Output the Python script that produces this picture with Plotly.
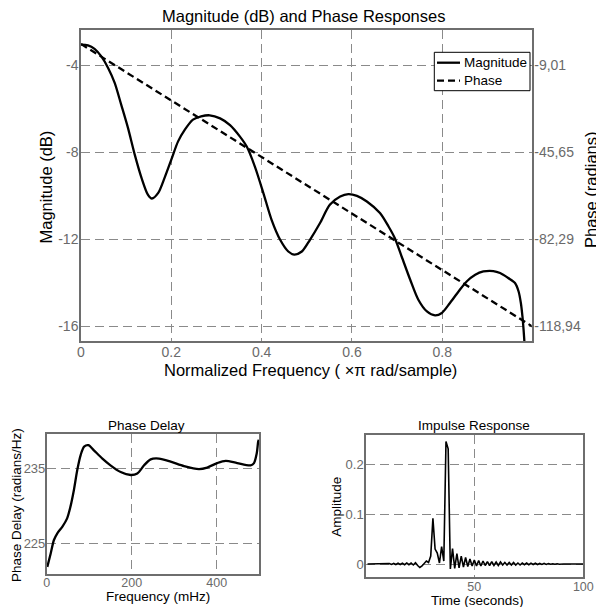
import plotly.graph_objects as go

# ---------------- data ----------------
mag_freq = [0.0, 0.0155, 0.030, 0.045, 0.060, 0.0746, 0.089, 0.104, 0.119, 0.134, 0.148, 0.157,
            0.171, 0.185, 0.200, 0.215, 0.230, 0.248, 0.266, 0.285, 0.308, 0.330, 0.352, 0.367,
            0.385, 0.404, 0.422, 0.441, 0.459, 0.472, 0.489, 0.507, 0.529, 0.551, 0.574, 0.592,
            0.611, 0.633, 0.662, 0.681, 0.695, 0.710, 0.729, 0.747, 0.766, 0.784, 0.799, 0.817,
            0.836, 0.854, 0.873, 0.891, 0.913, 0.928, 0.946, 0.961, 0.969, 0.974, 0.9775, 0.980,
            0.982, 0.986]
mag_db = [-3.05, -3.08, -3.24, -3.59, -4.12, -4.81, -5.81, -6.88, -8.11, -9.18, -9.95, -10.13,
          -9.87, -9.18, -8.34, -7.50, -6.96, -6.50, -6.35, -6.30, -6.44, -6.75, -7.28, -7.74,
          -8.66, -9.89, -11.11, -12.03, -12.57, -12.71, -12.57, -12.03, -11.27, -10.42, -10.04, -9.93,
          -10.01, -10.27, -10.80, -11.42, -11.96, -12.80, -13.87, -14.79, -15.33, -15.51, -15.40, -14.94,
          -14.41, -13.95, -13.64, -13.49, -13.47, -13.56, -13.79, -14.02, -14.41, -14.94, -15.56, -16.17,
          -16.78, -18.5]

phase_freq = [0.0, 1.0]
phase_rad = [0.0, -119.2]

mag_ticks = [-16, -12, -8, -4]
phase_ticks = [-118.94, -82.29, -45.65, -9.01]
phase_ticktext = ["-118,94", "-82,29", "-45,65", "-9,01"]
freq_ticks = [0, 0.2, 0.4, 0.6, 0.8]

pd_freq = [1.4, 9.4, 17, 25, 37, 48, 56, 64, 72, 80, 88, 98, 111, 131, 150, 174, 197.5, 213,
           229, 244.5, 264, 291.5, 323, 358, 377.5, 401, 421, 448, 479.5, 487.5, 494, 497.5, 499]
pd_val = [221.8, 223.6, 225.4, 226.3, 227.2, 228.3, 229.9, 232.1, 234.8, 236.8, 237.9, 238.1,
          237.4, 236.3, 235.4, 234.5, 234.1, 234.3, 235.4, 236.2, 236.3, 235.9, 235.3, 234.9,
          235.1, 235.7, 236.0, 235.7, 235.4, 235.7, 237.0, 238.6, 238.8]

imp_time = list(range(1, 101))
imp_amp = [0, 0, 0, 0, 0, 0, 0, 0, 0, 0,
           0.001, -0.001, 0.001, -0.001, 0.0015, -0.001, 0.0015, -0.0015, 0.002, -0.0015,
           0.002, -0.002, 0.0025, -0.003, -0.007, -0.004, 0.002, 0.006, 0.003, 0.016,
           0.092, 0.030, 0.022, 0.002, 0.035, 0.006, 0.247, 0.232, -0.010, 0.031,
           -0.009, 0.021, -0.008, 0.016, -0.006, 0.013, -0.005, 0.010, -0.004, 0.008,
           -0.004, 0.007, -0.004, 0.006, -0.003, 0.005, -0.003, 0.005, -0.003, 0.004,
           -0.003, 0.004, -0.002, 0.003, -0.002, 0.003, -0.002, 0.003, -0.002, 0.002,
           -0.002, 0.002, -0.0015, 0.002, -0.0015, 0.0015, -0.001, 0.0015, -0.001, 0.001,
           -0.001, 0.001, -0.001, 0.001, -0.0005, 0.0005, -0.0005, 0.0005, -0.0005, 0.0005,
           0, 0, 0, 0, 0, 0, 0, 0, 0, 0]

legend_names = ["Magnitude", "Phase"]

# ---------------- styling ----------------
FONT = "Liberation Sans, Arial, sans-serif"
TICKC = "#6a6a6a"
AXC = "#6e6e6e"
GRIDC = "#8a8a8a"
GDASH = "9px,5px"
PHASE_DASH = "7px,4px"
W, H = 596, 607


def px(x):
    return x / W


def py(y):
    return 1 - y / H


fig = go.Figure()
fig.add_trace(go.Scatter(x=mag_freq, y=mag_db, mode="lines", name=legend_names[0],
                         line=dict(color="black", width=2.3, shape="spline", smoothing=0.8),
                         xaxis="x", yaxis="y", showlegend=False))
fig.add_trace(go.Scatter(x=phase_freq, y=phase_rad, mode="lines", name=legend_names[1],
                         line=dict(color="black", width=2.3, dash=PHASE_DASH),
                         xaxis="x", yaxis="y2", showlegend=False))
fig.add_trace(go.Scatter(x=pd_freq, y=pd_val, mode="lines", showlegend=False,
                         line=dict(color="black", width=2.3, shape="spline", smoothing=0.8),
                         xaxis="x2", yaxis="y3"))
fig.add_trace(go.Scatter(x=imp_time, y=imp_amp, mode="lines", showlegend=False,
                         line=dict(color="black", width=1.6),
                         xaxis="x3", yaxis="y4"))

common = dict(showline=True, linecolor=AXC, linewidth=1.5, mirror=True, zeroline=False,
              showgrid=True, gridcolor=GRIDC, gridwidth=1, griddash=GDASH,
              ticks="", automargin=False)

fig.update_layout(
    width=W, height=H,
    margin=dict(l=0, r=0, t=0, b=0, autoexpand=False),
    paper_bgcolor="white", plot_bgcolor="white",
    font=dict(family=FONT, color="black"),
    showlegend=False,
    xaxis=dict(domain=[px(81), px(531.7)], range=[0, 0.998], anchor="y",
               tickvals=freq_ticks, ticktext=["0", "0.2", "0.4", "0.6", "0.8"],
               ticklabelstandoff=-3,
               tickfont=dict(size=14, color=TICKC), **common),
    yaxis=dict(domain=[py(341), py(29.5)], range=[-16.69, -2.35], anchor="x",
               tickvals=mag_ticks, ticktext=[str(v) for v in mag_ticks],
               ticklabelstandoff=-2,
               tickfont=dict(size=14, color=TICKC), **common),
    yaxis2=dict(overlaying="y", side="right", range=[-125.25, 6.10], anchor="x",
                tickvals=phase_ticks, ticktext=phase_ticktext, showgrid=False,
                showline=True, linecolor=AXC, linewidth=1.5, zeroline=False, ticks="",
                automargin=False, ticklabelstandoff=-2,
                tickfont=dict(size=14, color=TICKC)),
    xaxis2=dict(domain=[px(46.7), px(259.3)], range=[0, 500], anchor="y3",
                tickvals=[0, 200, 400], ticklabelstandoff=-4,
                tickfont=dict(size=12.5, color=TICKC), **common),
    yaxis3=dict(domain=[py(574), py(434.3)], range=[220.85, 239.55], anchor="x2",
                tickvals=[225, 235], ticklabelstandoff=-3,
                tickfont=dict(size=13, color=TICKC), **common),
    xaxis3=dict(domain=[px(366), px(583.3)], range=[0.3, 100], anchor="y4",
                tickvals=[50, 100], ticklabelstandoff=-2,
                tickfont=dict(size=12.5, color=TICKC), **common),
    yaxis4=dict(domain=[py(576.7), py(435)], range=[-0.0256, 0.26], anchor="x3",
                tickvals=[0, 0.1, 0.2], ticktext=["0", "0.1", "0.2"],
                ticklabelstandoff=-2,
                tickfont=dict(size=13, color=TICKC), **common),
)

# manual legend box (MATLAB style)
fig.add_shape(type="rect", xref="paper", yref="paper",
              x0=px(434.3), x1=px(530), y0=py(90.7), y1=py(52.3),
              line=dict(color="black", width=1), fillcolor="white", layer="above")
fig.add_shape(type="line", xref="paper", yref="paper",
              x0=px(437), x1=px(460), y0=py(62.7), y1=py(62.7),
              line=dict(color="black", width=2.3), layer="above")
fig.add_shape(type="line", xref="paper", yref="paper",
              x0=px(437), x1=px(460), y0=py(80.7), y1=py(80.7),
              line=dict(color="black", width=2.3, dash=PHASE_DASH), layer="above")
for i, name in enumerate(legend_names):
    fig.add_annotation(text=name, x=px(462), y=py(62.7 + 18 * i), xref="paper", yref="paper",
                       xanchor="left", yanchor="middle", showarrow=False,
                       font=dict(size=13.5, family=FONT, color="black"))

ann = [
    ("Magnitude (dB) and Phase Responses", 303, 16, 16.5, 0),
    ("Normalized Frequency ( \u00d7\u03c0 rad/sample)", 310.5, 370, 16.5, 0),
    ("Magnitude (dB)", 45.5, 187, 16.5, -90),
    ("Phase (radians)", 591, 190, 16.5, -90),
    ("Phase Delay", 146.7, 425, 13.5, 0),
    ("Impulse Response", 474, 425, 13.5, 0),
    ("Phase Delay (radians/Hz)", 16, 505, 13.5, -90),
    ("Frequency (mHz)", 157.5, 596, 13.5, 0),
    ("Amplitude", 337, 506.7, 13.5, -90),
    ("Time (seconds)", 477, 600.5, 13.5, 0),
]
for text, x, y, size, ang in ann:
    fig.add_annotation(text=text, x=px(x), y=py(y), xref="paper", yref="paper",
                       xanchor="center", yanchor="middle", showarrow=False,
                       textangle=ang, font=dict(size=size, family=FONT, color="black"))

fig.write_html("out.html")
